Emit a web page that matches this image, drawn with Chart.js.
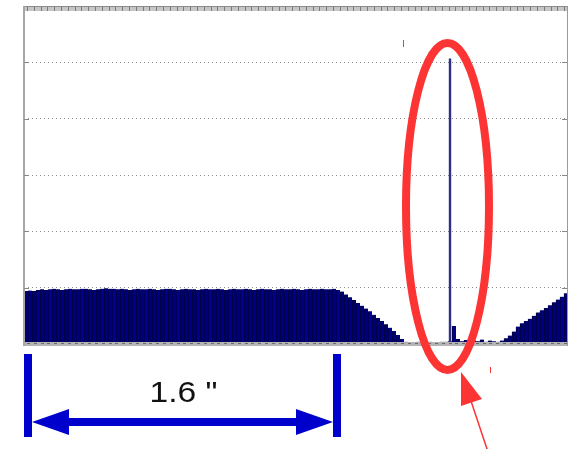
<!DOCTYPE html>
<html>
<head>
<meta charset="utf-8">
<script src="https://cdn.jsdelivr.net/npm/chart.js@4.4.1/dist/chart.umd.min.js"></script>
<style>
html, body { margin: 0; padding: 0; background: #fff; }
canvas { display: block; }
</style>
</head>
<body>
<canvas id="scopeCanvas" width="586" height="449"></canvas>
<script>
// signal level per sample (y axis runs 0..6, one grid line per unit)
const signalLevel = [
    0.94,0.95,0.94,0.96,0.97,0.96,0.97,0.98,0.97,0.96,
    0.97,0.98,0.97,0.97,0.98,0.98,0.97,0.96,0.97,0.98,
    0.99,0.98,0.98,0.97,0.98,0.97,0.96,0.97,0.98,0.97,
    0.97,0.98,0.97,0.96,0.97,0.98,0.98,0.97,0.96,0.97,
    0.98,0.97,0.97,0.96,0.97,0.98,0.97,0.97,0.98,0.97,
    0.96,0.97,0.98,0.97,0.97,0.98,0.97,0.96,0.97,0.98,
    0.97,0.97,0.96,0.97,0.98,0.97,0.97,0.98,0.97,0.96,
    0.97,0.98,0.97,0.97,0.98,0.97,0.97,0.98,0.96,
    0.93,0.88,0.83,0.78,0.73,0.68,0.63,0.58,0.52,0.46,
    0.41,0.35,0.29,0.23,0.16,0.09,0.04,
    0.03,0.03,0.04,0.03,0.03,0.04,0.03,0.03,0.04,0.04,
    0.05,0.32,0.09,0.05,0.07,0.04,0.06,0.05,0.08,0.04,
    0.06,0.05,0.04,
    0.06,0.10,0.15,0.22,0.31,0.37,0.41,0.45,0.50,0.56,
    0.60,0.64,0.69,0.74,0.79,0.84,0.90
];
const spikeIndex = 106;
const spikeLevel = 5.07;
const yTicks = [0, 1, 2, 3, 4, 5, 6];
const sampleLabels = signalLevel.map((v, i) => i + 1);
const spikeData = signalLevel.map((v, i) => i === spikeIndex ? spikeLevel : null);
const dimensionText = '1.6 "';

const navyShades = ['#000074', '#00007e', '#00006a', '#000088', '#000070', '#00007a', '#000092', '#00006e'];

// scope-style frame: hatched top/bottom bands, side lines, short ticks at grid ends
const framePlugin = {
    id: 'frame',
    afterDatasetsDraw(chart){
        const c = chart.ctx;
        const a = chart.chartArea;
        const y = chart.scales.y;
        c.save();
        c.fillStyle = '#c6c6c6';
        c.fillRect(a.left, a.top, a.right - a.left, 5);
        c.fillStyle = '#b4b4b4';
        c.fillRect(a.left, a.bottom - 2, a.right - a.left, 4);
        c.fillStyle = '#8c8c8c';
        c.fillRect(a.left, a.top, a.right - a.left, 1);
        for(let x = a.left + 3; x < a.right; x += 6.8){
            c.fillStyle = '#7a7a7a';
            c.fillRect(Math.round(x), a.top + 1, 1, 4);
            c.fillStyle = '#6a6a6a';
            c.fillRect(Math.round(x), a.bottom - 1, 3, 1);
        }
        c.fillStyle = '#a8a8a8';
        c.fillRect(a.left - 1, a.top, 2, a.bottom - a.top + 2);
        c.fillStyle = '#9a9a9a';
        c.fillRect(a.right - 1, a.top, 1, a.bottom - a.top + 2);
        c.fillStyle = '#888';
        for(const t of yTicks.slice(1, -1)){
            const py = Math.round(y.getPixelForValue(t));
            c.fillRect(a.left, py, 5, 1);
            c.fillRect(a.right - 6, py, 5, 1);
        }
        c.restore();
    }
};

// hand-drawn marks on top: red ellipse + arrow, blue dimension arrow
const markupPlugin = {
    id: 'markup',
    afterDraw(chart){
        const c = chart.ctx;
        c.save();
        c.strokeStyle = '#fd3434';
        c.lineWidth = 8;
        c.beginPath();
        c.ellipse(447.5, 206.5, 41.5, 163.5, 0, 0, Math.PI * 2);
        c.stroke();

        c.fillStyle = '#fd3434';
        c.beginPath();
        c.moveTo(461, 372);
        c.lineTo(461, 406);
        c.lineTo(482, 399);
        c.closePath();
        c.fill();
        c.strokeStyle = '#fd3434';
        c.lineWidth = 1.5;
        c.beginPath();
        c.moveTo(471, 401);
        c.lineTo(488, 452);
        c.stroke();
        c.fillRect(403, 40, 1, 7);
        c.fillRect(490, 367, 1, 6);

        c.fillStyle = '#0000cc';
        c.fillRect(24, 354, 8, 83);
        c.fillRect(333, 354, 8, 83);
        c.fillRect(60, 418, 246, 8);
        c.beginPath();
        c.moveTo(32, 422);
        c.lineTo(69, 409);
        c.lineTo(69, 435);
        c.closePath();
        c.fill();
        c.beginPath();
        c.moveTo(333, 422);
        c.lineTo(296, 409);
        c.lineTo(296, 435);
        c.closePath();
        c.fill();

        c.fillStyle = '#111';
        c.font = '30px "Liberation Sans", Arial, sans-serif';
        c.textAlign = 'center';
        c.textBaseline = 'alphabetic';
        c.translate(183.5, 402);
        c.scale(1.12, 1);
        c.fillText(dimensionText, 0, 0);
        c.restore();
    }
};

const config = {
    type: 'bar',
    data: {
        labels: sampleLabels,
        datasets: [
            {
                label: 'spike',
                data: spikeData,
                backgroundColor: '#2e2e88',
                grouped: false,
                barPercentage: 0.6,
                categoryPercentage: 1,
                order: 0
            },
            {
                label: 'signal',
                data: signalLevel,
                backgroundColor: c => navyShades[c.dataIndex % navyShades.length],
                borderColor: '#00003a',
                borderWidth: {left: 1, right: 0, top: 0, bottom: 0},
                borderSkipped: false,
                grouped: false,
                barPercentage: 1,
                categoryPercentage: 1,
                order: 1
            }
        ]
    },
    options: {
        responsive: false,
        animation: false,
        devicePixelRatio: 1,
        layout: { padding: { left: 24, top: 6, right: 18, bottom: 105 } },
        plugins: { legend: { display: false }, tooltip: { enabled: false } },
        scales: {
            x: { display: false },
            y: {
                min: 0,
                max: 6,
                afterFit: s => { s.width = 0; },
                afterBuildTicks: s => { s.ticks = yTicks.map(v => ({value: v})); },
                ticks: { display: false },
                border: { display: false, dash: [1, 3] },
                grid: {
                    drawTicks: false,
                    color: c => (c.tick.value === 0 || c.tick.value === 6) ? 'rgba(0,0,0,0)' : '#8a8a8a'
                }
            }
        }
    },
    plugins: [framePlugin, markupPlugin]
};

const chart = new Chart(document.getElementById('scopeCanvas').getContext('2d'), config);
</script>
</body>
</html>
